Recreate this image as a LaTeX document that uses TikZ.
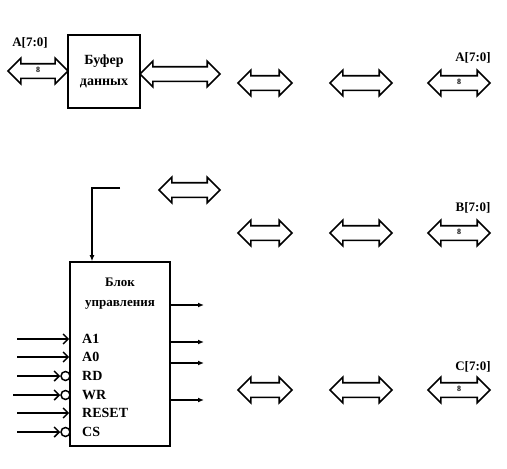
\documentclass[tikz,border=0pt]{standalone}
\usepackage{fontspec}
\setmainfont{Liberation Serif}
\usetikzlibrary{arrows.meta,positioning,shapes.arrows}
\tikzset{
  bus/.style={double arrow,draw=black,fill=white,line width=1.6pt,
              double arrow head extend=5.5pt,inner xsep=2pt,inner ysep=5pt,
              text height=3pt,text depth=0pt,
              font=\fontsize{8}{8}\selectfont\bfseries},
  blk/.style={draw=black,fill=white,line width=1.6pt,inner sep=0pt},
  blktext/.style={font=\fontsize{14}{21}\selectfont\bfseries,align=center,
                  inner sep=0pt},
  buslbl/.style={font=\fontsize{13}{13}\selectfont\bfseries,inner sep=0pt},
  pin/.style={font=\fontsize{14}{14}\selectfont\bfseries,anchor=west,
              inner sep=0pt},
  inarr/.style={-{Straight Barb[length=5pt,width=10pt,line width=1.5pt]},
                line width=1.5pt},
  outarr/.style={-{Latex[length=6pt,width=5pt]},line width=1.5pt},
  inv/.style={circle,draw=black,fill=white,line width=1.5pt,inner sep=0pt,
              minimum size=9pt},
}

\begin{document}
\begin{tikzpicture}[x=1pt,y=-1pt]
  \useasboundingbox (0,0) rectangle (507,469);

  % data buffer
  \node[blk,minimum width=72pt,minimum height=73pt] (buf) at (104,71.5) {};
  \node[blktext] (buftxt) at (buf.center) {Буфер\\данных};
  \node[buslbl] (la) at (30,43) {A[7:0]};
  \node[bus,minimum height=60pt] (bin) at (38,71) {8};
  \node[bus,minimum height=80pt] (bout) at (180,74) {};
  \node[bus,minimum height=61pt] (bctl) at (189.5,190) {};

  % ports A, B, C
  \foreach \p/\y/\ly in {A/83/58, B/233/208, C/390/367}{
    \node[bus,minimum height=54pt] (b\p1) at (265,\y) {};
    \node[bus,minimum height=62pt] (b\p2) at (361,\y) {};
    \node[bus,minimum height=62pt] (b\p3) at (459,\y) {8};
    \node[buslbl] (l\p) at (473,\ly) {\p[7:0]};
  }

  % control unit
  \node[blk,minimum width=100pt,minimum height=184pt] (ctl) at (120,354) {};
  \node[blktext,font=\fontsize{13}{20}\selectfont\bfseries,
        below=17pt of ctl.north] (ctltxt) {Блок\\управления};
  \coordinate (cin) at (120,188);
  \draw[outarr] (cin) -| ([xshift=-28pt]ctl.north);

  \foreach \n/\t/\y in {a1/A1/339, a0/A0/357, rst/RESET/413}{
    \node[pin] (p\n) at (82,\y) {\t};
    \coordinate (s\n) at (17,\y);
    \draw[inarr] (s\n) -- (ctl.west |- s\n);
  }
  \foreach \n/\t/\y/\x in {rd/RD/376/17, wr/WR/395/13, cs/CS/432/17}{
    \node[pin] (p\n) at (82,\y) {\t};
    \node[inv] (n\n) at (65.5,\y) {};
    \coordinate (s\n) at (\x,\y);
    \draw[inarr] (s\n) -- (n\n.west);
  }
  \foreach \i/\y in {1/305, 2/342, 3/363, 4/400}{
    \coordinate (o\i) at (204,\y);
    \draw[outarr] (ctl.east |- o\i) -- (o\i);
  }
\end{tikzpicture}
\end{document}
